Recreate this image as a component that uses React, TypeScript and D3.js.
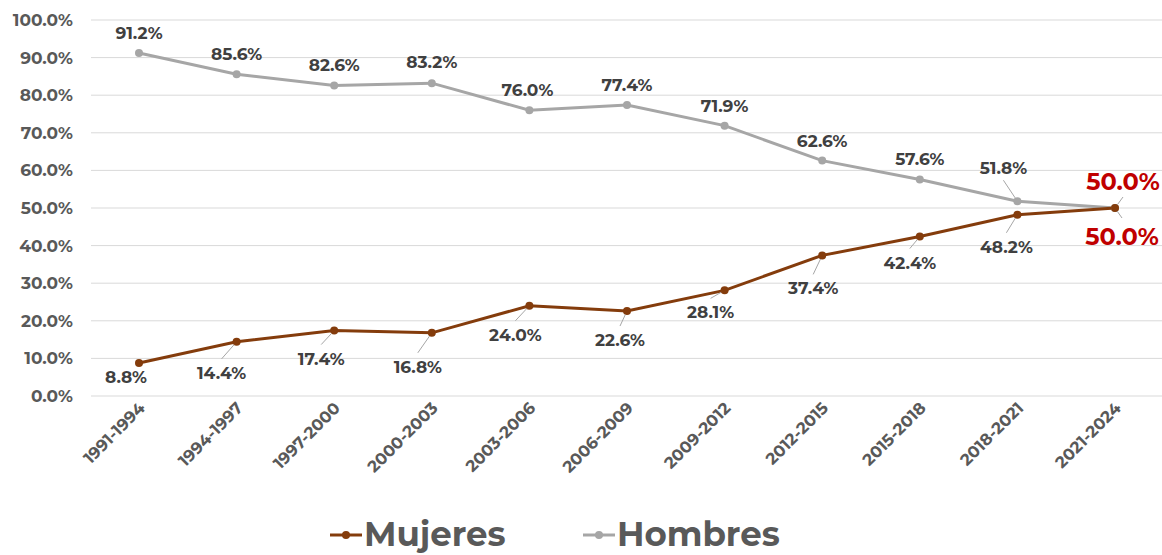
import React from "react";
import * as d3 from "d3";

const categories = ["1991-1994","1994-1997","1997-2000","2000-2003","2003-2006","2006-2009","2009-2012","2012-2015","2015-2018","2018-2021","2021-2024"];
const mujeres = [8.8,14.4,17.4,16.8,24.0,22.6,28.1,37.4,42.4,48.2,50.0];
const hombres = [91.2,85.6,82.6,83.2,76.0,77.4,71.9,62.6,57.6,51.8,50.0];
const yTicks = [0,10,20,30,40,50,60,70,80,90,100];

// label placement (layout only)
const mujOffsets: [number, number][] = [[-13,14],[-15,31],[-13,28],[-14,34],[-14,29],[-7,29],[-14,22],[-9,33],[-10,26],[-11,32],[7,29]];
const mujLeader = [false,true,true,true,true,true,true,true,true,true,true];
const homOffsets: [number, number][] = [[0,-20],[0,-20],[0,-20],[0,-21],[-2,-20],[0,-20],[0,-20],[0,-20],[0,-20],[-14,-33],[8,-26]];
const homLeader = [false,false,false,false,false,false,false,false,false,true,true];

const W = 1162, H = 555;
const FONT = "Montserrat, 'DejaVu Sans', sans-serif";
const C_MUJ = "#843C0C";
const C_HOM = "#A6A6A6";

export default function App() {
  const x = d3.scalePoint<string>().domain(categories).range([139, 1115]);
  const y = d3.scaleLinear().domain([0, 100]).range([396, 20]);
  const line = d3.line<number>().x((_, i) => x(categories[i])!).y(d => y(d));

  const renderLabels = (vals: number[], offs: [number, number][], leaders: boolean[], below: boolean, key: string) =>
    vals.map((v, i) => {
      const px = x(categories[i])!;
      const py = y(v);
      const lx = px + offs[i][0];
      const ly = py + offs[i][1];
      const last = i === vals.length - 1;
      const edgeY = below ? ly - (last ? 19 : 14) : ly + (last ? 15 : 12);
      const ang = Math.atan2(edgeY - py, lx - px);
      return (
        <g key={key + i}>
          {leaders[i] && (
            <line x1={lx} y1={edgeY} x2={px + Math.cos(ang) * 4} y2={py + Math.sin(ang) * 4}
              stroke="#A6A6A6" strokeWidth={1} />
          )}
          <text x={lx} y={ly} dy="0.35em" textAnchor="middle"
            fontSize={last ? 24 : 17} fontWeight="bold"
            fill={last ? "#C00000" : "#404040"}>
            {v.toFixed(1)}%
          </text>
        </g>
      );
    });

  return (
    <svg width={W} height={H} style={{ position: "absolute", left: 0, top: 0, background: "#fff" }} fontFamily={FONT}>
      {yTicks.map(t => (
        <g key={"g" + t}>
          <line x1={91} x2={1162} y1={y(t)} y2={y(t)} stroke="#D9D9D9" strokeWidth={1} />
          <text x={73} y={y(t)} dy="0.35em" textAnchor="end" fontSize={17} fontWeight="bold" fill="#595959">
            {t.toFixed(1)}%
          </text>
        </g>
      ))}
      {categories.map(c => (
        <text key={c} transform={`translate(${x(c)! + 3},${405}) rotate(-45)`} textAnchor="end" dy="0.35em"
          fontSize={16.5} fontWeight="bold" fill="#595959">{c}</text>
      ))}
      <path d={line(hombres)!} fill="none" stroke={C_HOM} strokeWidth={3} />
      <path d={line(mujeres)!} fill="none" stroke={C_MUJ} strokeWidth={3} />
      {hombres.map((v, i) => <circle key={"hc" + i} cx={x(categories[i])} cy={y(v)} r={4} fill={C_HOM} />)}
      {mujeres.map((v, i) => <circle key={"mc" + i} cx={x(categories[i])} cy={y(v)} r={4} fill={C_MUJ} />)}
      {renderLabels(hombres, homOffsets, homLeader, false, "hl")}
      {renderLabels(mujeres, mujOffsets, mujLeader, true, "ml")}
      <g>
        <line x1={330} x2={362} y1={535} y2={535} stroke={C_MUJ} strokeWidth={3} />
        <circle cx={346} cy={535} r={4} fill={C_MUJ} />
        <text x={364} y={546} fontSize={34} fontWeight="bold" fill="#595959">Mujeres</text>
        <line x1={583} x2={615} y1={535} y2={535} stroke={C_HOM} strokeWidth={3} />
        <circle cx={599} cy={535} r={4} fill={C_HOM} />
        <text x={617} y={546} fontSize={34} fontWeight="bold" fill="#595959">Hombres</text>
      </g>
    </svg>
  );
}
